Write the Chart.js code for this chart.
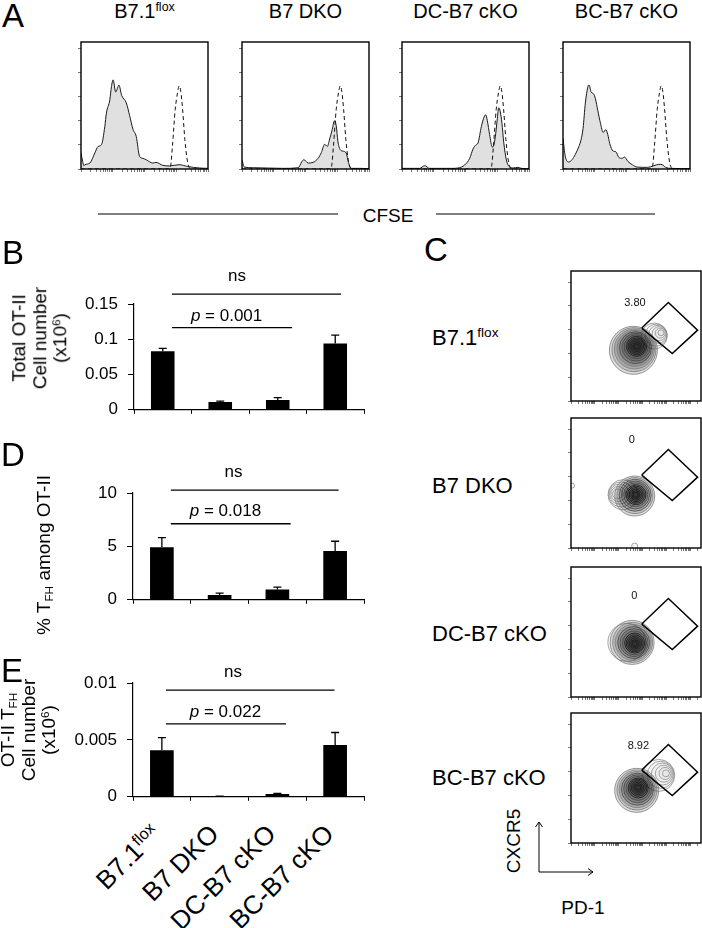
<!DOCTYPE html>
<html>
<head>
<meta charset="utf-8">
<title>B7 costimulation figure</title>
<script src="https://cdn.jsdelivr.net/npm/chart.js@4.4.1/dist/chart.umd.min.js"></script>
<style>
  html, body { margin: 0; padding: 0; background: #fff; }
  #fig { position: relative; width: 702px; height: 928px; overflow: hidden; background: #fff;
         font-family: 'Liberation Sans', Arial, sans-serif; color: #000; }
  #fig canvas { position: absolute; }
  #fig svg { position: absolute; left: 0; top: 0; }
  .txt { position: absolute; white-space: nowrap; line-height: 1; text-align: center; }
  .txt sup { font-size: 0.62em; vertical-align: 0; position: relative; top: -0.55em; line-height: 0; }
  .txt sub { font-size: 0.62em; vertical-align: 0; position: relative; top: 0.25em; line-height: 0; }
</style>
</head>
<body>
<div id="fig">
  <svg width="702" height="928">
    <g stroke="#555" stroke-width="1.3">
      <line x1="98" y1="214" x2="338" y2="214"/>
      <line x1="436" y1="214" x2="655" y2="214"/>
    </g>
    <g stroke="#000" stroke-width="1" fill="none">
      <polyline points="539,822 539,872 593,872"/>
      <polyline points="535.5,827 539,822 542.5,827"/>
      <polyline points="588,868.5 593,872 588,875.5"/>
    </g>
  </svg>
</div>
<script>
Chart.defaults.font.family = "'Liberation Sans', Arial, sans-serif";
Chart.defaults.color = '#000';
Chart.defaults.animation = false;
Chart.defaults.events = [];
Chart.defaults.layout.autoPadding = false;
Chart.defaults.plugins.legend.display = false;
Chart.defaults.plugins.tooltip.enabled = false;

const groups = ['B7.1flox', 'B7 DKO', 'DC-B7 cKO', 'BC-B7 cKO'];

// A: CFSE histograms, [x % of axis, y % of box height]
const ctrlCFSE = [[0,0],[69,0],[70.5,2],[72,18],[74.2,47],[76,60],[77.3,65.5],[78.6,61],[80,47],[81.8,23],[84,5],[85.5,0.8],[87,0],[100,0]];
const b71CFSE = [[0,12.6],[1.3,6],[2.3,2.5],[3.1,3.4],[7,4.7],[10.9,12.6],[13.5,17.8],[16.1,19.1],[18.75,33.5],[20,44],[22.7,54.5],[24,65],[25.3,70.2],[27.3,60.7],[29.9,66],[32,58],[35.7,52],[38.3,42],[40.9,31.4],[43.5,25.6],[46.1,10],[48.7,8.4],[51.3,7.3],[56.5,4.7],[59.1,5.2],[64.3,2.9],[69.5,2.4],[77.3,3.4],[83.9,2],[93,0.8],[100,0.5]];
const dkoCFSE = [[0,7.3],[1.8,1.5],[9,1],[32.6,0.5],[44.3,1],[46.9,5.5],[48.7,7.3],[52.1,4.7],[56,5.2],[59.9,8.4],[62.5,13],[65.1,19.4],[67.2,17.8],[69,23.6],[70.8,30],[72.9,38],[74.2,34],[75.5,22],[77.3,15.2],[79.4,14.1],[82,12.6],[83.9,5],[85.9,0.5],[92.4,0.5],[100,0.3]];
const dcCFSE = [[0,0.5],[13.9,0.5],[17.8,2.6],[21.8,0.5],[40.2,0.5],[46.7,1.5],[49.3,3.1],[53.3,8.4],[55.9,15.7],[58,18.8],[59.8,20.4],[62.5,33.5],[64.3,40],[65.9,42.7],[67.2,38],[69,27],[71.1,17.3],[72.4,19],[73.8,28],[75.1,40],[76.1,48.2],[77.4,45],[78.7,36],[80.1,21],[82.2,7],[84.3,2],[87.4,0.8],[91.3,1.3],[94,0.5],[100,0.3]];
const bcCFSE = [[0,24],[1.8,10],[4.5,5.5],[7.1,7.3],[9.7,11.5],[12.4,17.5],[14.2,23],[15.8,32],[17.6,52],[19.5,64.4],[20.5,66.2],[22.1,60.7],[24.2,59],[25.5,55.5],[27.4,46],[29.5,36],[31.6,28.8],[33.7,31],[35.3,27],[36.8,20],[39.5,14.1],[41.6,13.6],[43.9,9.2],[46.6,8.4],[48.4,9.4],[51.1,6],[54.5,3.4],[58.4,1.5],[66.3,1.3],[71.6,2.6],[75.5,3.7],[78.2,3.4],[80.8,1.3],[84.7,0.5],[100,0.3]];
const histYTicks = [0, 19, 38, 57, 76, 95];

// B, D, E: bar values and SEM
const totalOT2 = [0.083, 0.011, 0.014, 0.094];
const totalOT2Sem = [0.004, 0.0013, 0.0034, 0.012];
const pctTfh = [4.92, 0.44, 0.96, 4.58];
const pctTfhSem = [0.9, 0.19, 0.23, 0.9];
const tfhNumber = [0.0041, 0.00004, 0.00025, 0.00455];
const tfhNumberSem = [0.0011, 0.00002, 0.00005, 0.0011];
const pValues = ['0.001', '0.018', '0.022'];

// C: contour rings [x %, y %, radius], Tfh gate and gate frequency
const b71Main = [[48,39,24],[48.4,39.5,22],[48.8,40,20],[49.2,40.5,18],[49.6,41,16],[50,41.4,14],[50.2,41.7,12],[50.4,42,10],[50.5,42,8.5],[50.5,42,7],[50.5,42,5.5],[50.5,42,4],[50.5,42,2.5]];
const b71Side = [[64,50,13],[65.5,50.7,11],[66.8,51.3,9],[67.8,51.8,7],[68.6,52.2,5],[69.2,52.5,3]];
const dkoMain = [[49,40,20],[49.2,40.3,18],[49.4,40.6,16],[49.6,40.8,14],[49.8,41,12],[50,41,10],[50,41,8.5],[50,41,7],[50,41,5.5],[50,41,4],[50,41,2.5]];
const dkoSide = [[40,41,15],[38.5,41.2,12.5],[37.3,41.4,10],[36.4,41.5,7.5],[35.8,41.6,5],[49,1.5,3],[0.8,48,2.5]];
const dcMain = [[47,42,22],[47.4,42,20],[47.8,42,18],[48.2,41.9,16],[48.5,41.8,14],[48.8,41.6,12],[49,41.5,10],[49,41.3,8.5],[49,41.2,7],[49,41.1,5.5],[49,41,4],[49,41,2.5]];
const dcSide = [[43,42,19]];
const bcMain = [[50.5,40.5,22],[50.7,40.8,20],[50.9,41.1,18],[51.1,41.4,16],[51.3,41.7,14],[51.5,42,12],[51.7,42.3,10],[51.8,42.5,8.5],[51.8,42.6,7],[51.8,42.6,5.5],[51.8,42.6,4],[51.8,42.6,2.5]];
const bcSide = [[67.5,52,16],[69,52.5,13.5],[70.3,53,11],[71.4,53.3,8.5],[72.3,53.5,6],[73,53.6,3.5]];
const tfhGate = [[54.4,56.1],[74.9,75.8],[97.4,54.5],[77.9,36.5],[54.4,56.1]];
const gateFreq = ['3.80', '0', '0', '8.92'];

const fig = document.getElementById('fig');
const rich = s => s.replace('flox', '<sup>flox</sup>');
const toXY = arr => arr.map(([x, y]) => ({x, y}));

function makeCanvas(left, top, w, h) {
  const c = document.createElement('canvas');
  c.width = w; c.height = h;
  c.style.left = left + 'px'; c.style.top = top + 'px';
  c.style.width = w + 'px'; c.style.height = h + 'px';
  fig.appendChild(c);
  return c;
}

// html text centred on (x, y); anchor 'right' puts the right-middle point there
function addText(html, x, y, size, opt = {}) {
  const d = document.createElement('div');
  d.className = 'txt';
  d.innerHTML = html;
  d.style.fontSize = size + 'px';
  if (opt.lh) d.style.lineHeight = opt.lh + 'px';
  d.style.left = x + 'px';
  d.style.top = y + 'px';
  const rot = opt.rotate ? ` rotate(${opt.rotate}deg)` : '';
  if (opt.anchor === 'right') {
    d.style.transformOrigin = 'right center';
    d.style.transform = 'translate(-100%, -50%)' + rot;
  } else if (opt.anchor === 'left') {
    d.style.transform = 'translate(0, -50%)' + rot;
  } else {
    d.style.transform = 'translate(-50%, -50%)' + rot;
  }
  fig.appendChild(d);
}

const logSteps = [1, 2, 3, 4, 5, 6, 7, 8, 9];
function logTicks(decade) {
  const out = [];
  for (let d = 0; d * decade <= 100; d++) {
    logSteps.forEach(k => {
      const v = d * decade + Math.log10(k) * decade;
      if (v <= 100.01) out.push({value: v});
    });
  }
  return out;
}

const boxFrame = {
  id: 'boxFrame',
  afterDraw(chart) {
    const {ctx, chartArea: a} = chart;
    ctx.save();
    ctx.strokeStyle = '#000';
    ctx.lineWidth = 1.4;
    ctx.strokeRect(a.left, a.top, a.right - a.left, a.bottom - a.top);
    ctx.restore();
  }
};

const gateText = {
  id: 'gateText',
  afterDraw(chart, args, opts) {
    if (!opts.text) return;
    const {ctx, scales: {x, y}} = chart;
    ctx.save();
    ctx.font = "11px 'Liberation Sans', Arial, sans-serif";
    ctx.fillStyle = '#111';
    ctx.textAlign = 'center';
    ctx.textBaseline = 'middle';
    ctx.fillText(opts.text, x.getPixelForValue(opts.at[0]), y.getPixelForValue(opts.at[1]));
    ctx.restore();
  }
};

function flowScales(xDecade, yTicks) {
  const grid = {drawOnChartArea: false, tickLength: 3, tickColor: '#555', tickWidth: 0.8};
  return {
    x: {type: 'linear', min: 0, max: 100, border: {display: false}, grid, ticks: {display: false},
        afterBuildTicks: s => { s.ticks = logTicks(xDecade); },
        afterFit: s => { s.height = 4; }},
    y: {type: 'linear', min: 0, max: 100, border: {display: false}, grid, ticks: {display: false},
        afterBuildTicks: s => { s.ticks = yTicks.map(v => ({value: v})); },
        afterFit: s => { s.width = 5; }}
  };
}

// ---- A: histograms
const histLefts = [81, 242, 402, 563];
[b71CFSE, dkoCFSE, dcCFSE, bcCFSE].forEach((pts, i) => {
  const L = histLefts[i], T = 42, W = 127, H = 127;
  new Chart(makeCanvas(L - 5, T - 2, W + 7, H + 6), {
    type: 'line',
    data: {datasets: [
      {data: toXY(ctrlCFSE), borderColor: '#111', borderWidth: 1, borderDash: [4, 3],
       pointRadius: 0, cubicInterpolationMode: 'monotone', fill: false},
      {data: toXY(pts), borderColor: '#1a1a1a', borderWidth: 1, backgroundColor: '#e0e0e0',
       fill: 'origin', pointRadius: 0, cubicInterpolationMode: 'monotone'}
    ]},
    options: {responsive: false, layout: {padding: {top: 2, right: 2}},
              scales: flowScales(25, histYTicks)},
    plugins: [boxFrame]
  });
  addText(rich(groups[i]), L + W / 2, 10.5, 20);
});
addText('A', 13, 14.5, 33);
addText('CFSE', 388, 215, 19);

// ---- B, D, E: bar charts
const barMarks = {
  id: 'barMarks',
  afterDatasetsDraw(chart, args, opts) {
    const {ctx, scales: {x, y}} = chart;
    const meta = chart.getDatasetMeta(0);
    const vals = chart.data.datasets[0].data;
    ctx.save();
    ctx.strokeStyle = '#000';
    ctx.lineWidth = 1.3;
    opts.sem.forEach((e, i) => {
      const b = meta.data[i];
      const top = y.getPixelForValue(vals[i] + e);
      ctx.beginPath();
      ctx.moveTo(b.x, b.y); ctx.lineTo(b.x, top);
      ctx.moveTo(b.x - 4, top); ctx.lineTo(b.x + 4, top);
      ctx.stroke();
    });
    ctx.fillStyle = '#000';
    ctx.textBaseline = 'alphabetic';
    opts.brackets.forEach(br => {
      const yy = y.getPixelForValue(br.y);
      ctx.beginPath();
      ctx.moveTo(x.getPixelForValue(br.from), yy);
      ctx.lineTo(x.getPixelForValue(br.to), yy);
      ctx.stroke();
      const cx = x.getPixelForValue(br.at);
      const base = yy - br.dy;
      const normal = "17px 'Liberation Sans', Arial, sans-serif";
      if (br.p) {
        const italic = "italic 17px 'Liberation Sans', Arial, sans-serif";
        const rest = ' = ' + br.p;
        ctx.font = italic; const w1 = ctx.measureText('p').width;
        ctx.font = normal; const w2 = ctx.measureText(rest).width;
        const sx = cx - (w1 + w2) / 2;
        ctx.textAlign = 'left';
        ctx.font = italic; ctx.fillText('p', sx, base);
        ctx.font = normal; ctx.fillText(rest, sx + w1, base);
      } else {
        ctx.font = normal; ctx.textAlign = 'center';
        ctx.fillText('ns', cx, base);
      }
    });
    ctx.restore();
  }
};

function barChart(c) {
  const canvasLeft = 20, canvasTop = c.top - c.padTop;
  const h = c.bottom - canvasTop + 8;
  return new Chart(makeCanvas(canvasLeft, canvasTop, 350, h), {
    type: 'bar',
    data: {labels: groups, datasets: [{data: c.values, backgroundColor: '#000',
                                       barPercentage: 0.41, categoryPercentage: 1}]},
    options: {
      responsive: false,
      layout: {padding: {top: c.padTop, right: 6}},
      scales: {
        x: {border: {color: '#000', width: 1.2},
            grid: {drawOnChartArea: false, tickLength: 4, tickColor: '#000', offset: true},
            ticks: {display: false}, afterFit: s => { s.height = 8; }},
        y: {min: 0, max: c.max, border: {color: '#000', width: 1.2},
            grid: {drawOnChartArea: false, tickLength: 6, tickColor: '#000'},
            ticks: {stepSize: c.step, padding: 10, font: {size: 17},
                    callback: v => String(+v.toFixed(4))},
            afterFit: s => { s.width = c.left - canvasLeft; }}
      },
      plugins: {barMarks: {sem: c.sem, brackets: c.brackets}}
    },
    plugins: [barMarks]
  });
}

barChart({left: 134, top: 304, bottom: 422, padTop: 42, values: totalOT2, sem: totalOT2Sem,
  max: 0.15, step: 0.05, brackets: [
    {from: 0.16, to: 3.1, y: 0.164, at: 1.29, dy: 13},
    {from: 0.16, to: 2.25, y: 0.1164, at: 1.11, dy: 6.5, p: pValues[0]}]});
barChart({left: 133, top: 493, bottom: 612, padTop: 38, values: pctTfh, sem: pctTfhSem,
  max: 10, step: 5, brackets: [
    {from: 0.155, to: 3.06, y: 10.26, at: 1.24, dy: 13.5},
    {from: 0.155, to: 2.23, y: 7.12, at: 1.1, dy: 8, p: pValues[1]}]});
const chartE = barChart({left: 133, top: 683, bottom: 809, padTop: 33, values: tfhNumber, sem: tfhNumberSem,
  max: 0.01, step: 0.005, brackets: [
    {from: 0.07, to: 2.99, y: 0.00937, at: 1.23, dy: 13.4},
    {from: 0.07, to: 2.15, y: 0.0064, at: 1.1, dy: 7.3, p: pValues[2]}]});

chartE.getDatasetMeta(0).data.forEach((b, i) => {
  addText(rich(groups[i]), b.x + 14, 829, 26, {anchor: 'right', rotate: -45});
});

addText('B', 13, 252, 33);
addText('D', 13, 454, 33);
addText('E', 12, 669.5, 33);
addText('Total OT-II<br>Cell number<br>(x10<sup>6</sup>)', 40, 338, 19, {rotate: -90, lh: 20.5});
addText('% T<sub>FH</sub> among OT-II', 43, 555, 19, {rotate: -90});
addText('OT-II T<sub>FH</sub><br>Cell number<br>(x10<sup>6</sup>)', 29, 730, 19, {rotate: -90, lh: 20.5});

// ---- C: contour plots
const ringShade = ctx => {
  const r = ctx.raw ? ctx.raw.r : 0;
  return r >= 18 ? '#7a7a7a' : r >= 12 ? '#444' : '#181818';
};
const contourTops = [271, 418, 567, 713];
const gateLabelAt = [[49.2, 75.3], [46.7, 82.8], [48.7, 78], [51.8, 74.4]];
[[b71Main, b71Side], [dkoMain, dkoSide], [dcMain, dcSide], [bcMain, bcSide]].forEach(([main, side], i) => {
  const L = 571, T = contourTops[i], S = 130;
  new Chart(makeCanvas(L - 5, T - 2, S + 6, S + 6), {
    type: 'bubble',
    data: {datasets: [
      {type: 'scatter', data: toXY(tfhGate), showLine: true, borderColor: '#000', borderWidth: 1.5,
       pointRadius: 0, fill: false},
      {data: main.map(([x, y, r]) => ({x, y, r})), borderColor: ringShade, borderWidth: 0.8,
       backgroundColor: 'rgba(0,0,0,0.13)'},
      {data: side.map(([x, y, r]) => ({x, y, r})), borderColor: '#8c8c8c', borderWidth: 0.8,
       backgroundColor: 'rgba(0,0,0,0.02)'}
    ]},
    options: {responsive: false, layout: {padding: {top: 2, right: 1}},
              scales: flowScales(18.4, [0, 18.3, 36.6, 54.9, 73.2, 91.5]),
              plugins: {gateText: {text: gateFreq[i], at: gateLabelAt[i]}}},
    plugins: [boxFrame, gateText]
  });
});

addText('C', 436, 249, 33);
[337.5, 486, 633.7, 777.5].forEach((y, i) => addText(rich(groups[i]), 432, y, 22, {anchor: 'left'}));
addText('CXCR5', 512.5, 840.5, 19, {rotate: -90});
addText('PD-1', 583, 906.5, 19);
</script>
</body>
</html>
